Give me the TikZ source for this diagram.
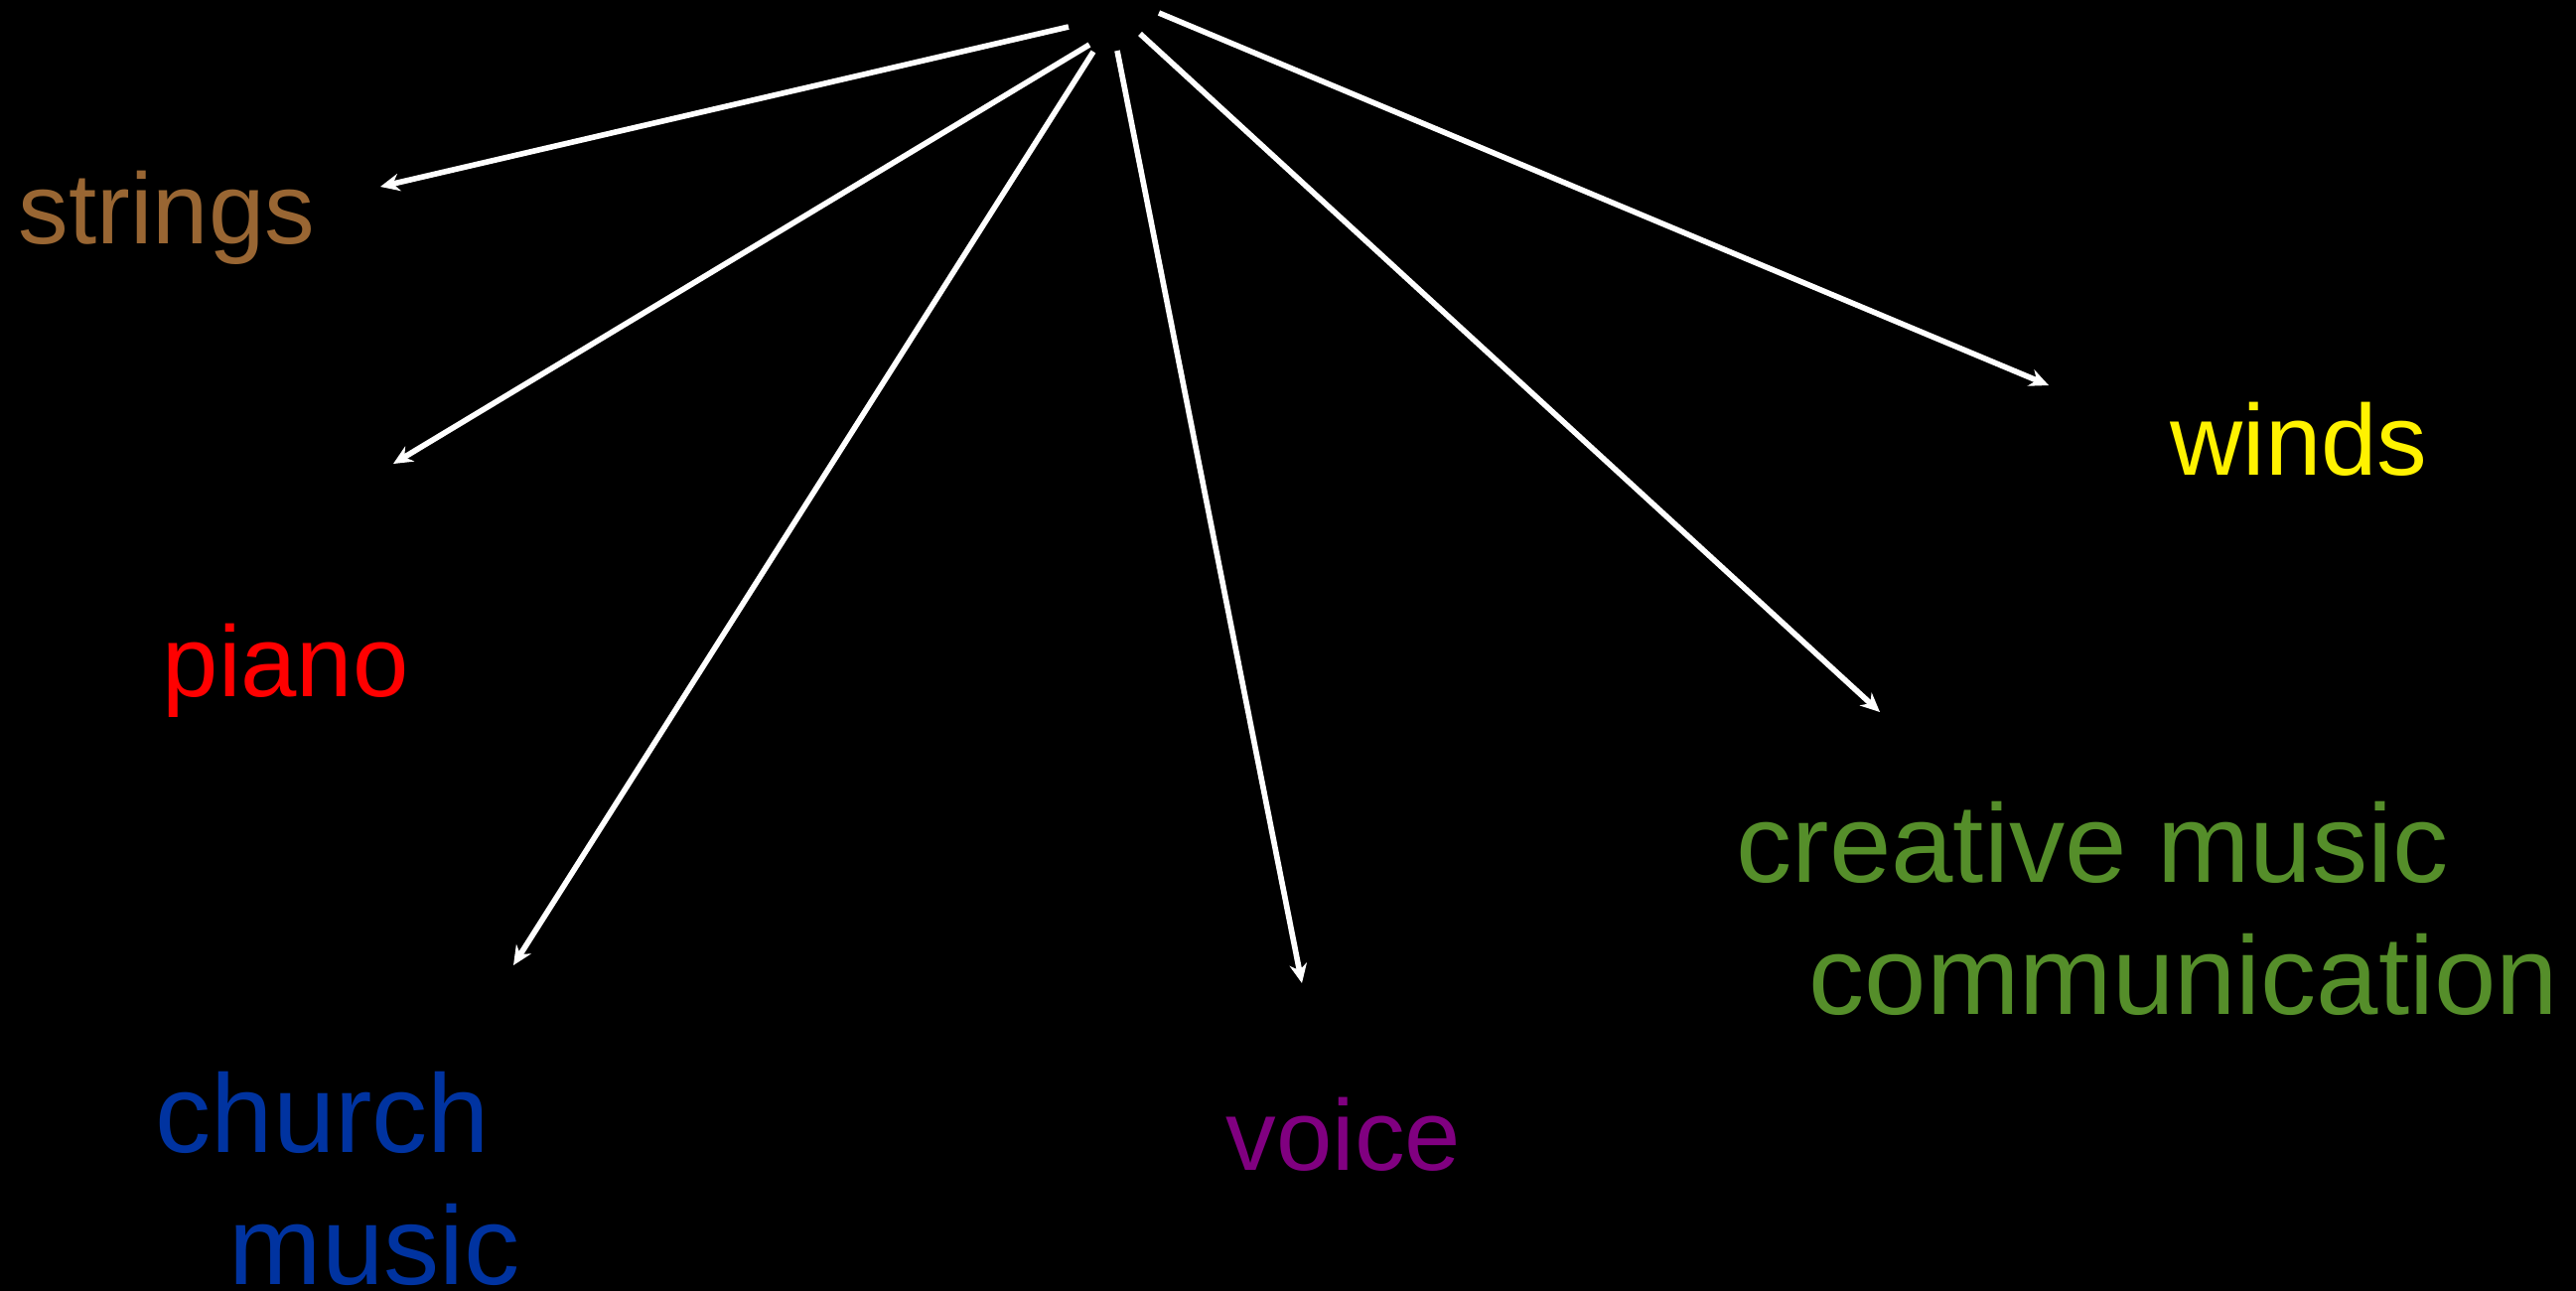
\documentclass[tikz,border=0pt]{standalone}
\usepackage{fontspec}
\setmainfont{Liberation Sans}
\usetikzlibrary{arrows.meta}

\definecolor{stringbrown}{RGB}{153,102,51}
\definecolor{churchblue}{RGB}{0,51,160}
\definecolor{voicepurple}{RGB}{128,0,128}
\definecolor{creativegreen}{RGB}{85,142,42}

\begin{document}
\begin{tikzpicture}[x=.01cm,y=-.01cm,
  arr/.style={white,line width=1.6pt,-{Stealth[length=5.5pt,width=5pt]}},
  lbl/.style={anchor=base west,inner sep=0pt,font=\fontsize{28.8}{34}\selectfont},
  biglbl/.style={anchor=base west,inner sep=0pt,align=left,font=\fontsize{31.9}{37.8}\selectfont}]

\useasboundingbox (0,0) rectangle (2594,1299);
\fill[black] (-10,-10) rectangle (2604,1309);

% the labels
\node[lbl,stringbrown] (strings) at (18,245) {strings};
\node[lbl,red] (piano) at (163,701) {piano};
\node[biglbl,churchblue] (church) at (156,1293) {church\\\hspace*{0.74cm}music};
\node[lbl,voicepurple] (voice) at (1234,1178) {voice};
\node[biglbl,creativegreen] (creative) at (1748,1021) {creative music\\\hspace*{0.73cm}communication};
\node[lbl,yellow] (winds) at (2185,478) {winds};

% where the arrows start
\coordinate (s1) at (1076,27);
\coordinate (s2) at (1097,45);
\coordinate (s3) at (1101,52);
\coordinate (s4) at (1125,51);
\coordinate (s5) at (1148,34);
\coordinate (s6) at (1167,13);

% where they end
\coordinate (t1) at (383,188);
\coordinate (t2) at (396,467);
\coordinate (t3) at (517,972);
\coordinate (t4) at (1311,990);
\coordinate (t5) at (1893,717);
\coordinate (t6) at (2063,388);

\draw[arr] (s1) -- (t1);
\draw[arr] (s2) -- (t2);
\draw[arr] (s3) -- (t3);
\draw[arr] (s4) -- (t4);
\draw[arr] (s5) -- (t5);
\draw[arr] (s6) -- (t6);

\end{tikzpicture}
\end{document}
